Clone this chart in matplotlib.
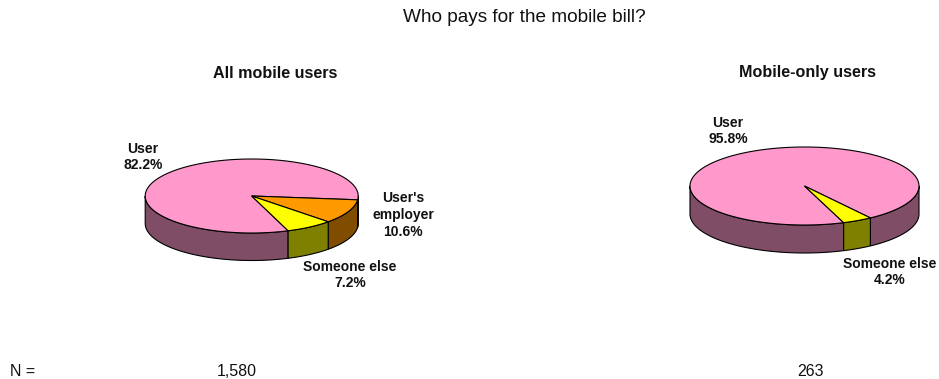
import numpy as np
import matplotlib
matplotlib.use("Agg")
import matplotlib.pyplot as plt
from matplotlib.patches import Polygon

plt.rcParams["font.family"] = ["Liberation Sans", "DejaVu Sans"]

# ── data ──────────────────────────────────────────────────────────────
ALL_CATS    = ["User", "User's\nemployer", "Someone else"]
ALL_SHARES  = [82.2, 10.6, 7.2]
ALL_N       = "1,580"

ONLY_CATS   = ["User", "Someone else"]
ONLY_SHARES = [95.8, 4.2]
ONLY_N      = "263"

TOP_COLORS = {"User": "#FF99CC", "User's\nemployer": "#FF9900", "Someone else": "#FFFF00"}

W, H = 939, 379
START_DEG = 70.0        # first slice starts here, going clockwise on screen


def darker(hex_color, f=0.5):
    r, g, b = matplotlib.colors.to_rgb(hex_color)
    return (r * f, g * f, b * f)


def pie3d(ax, shares, cats, cx, cy, a, b, depth):
    """Flat-shaded 'Excel style' 3D pie, drawn in pixel coords (y down)."""
    total = sum(shares)
    bounds = []
    t0 = START_DEG
    for s in shares:
        t1 = t0 + 360.0 * s / total
        bounds.append((t0, t1))
        t0 = t1

    # front walls: only the part of each slice with sin(t) > 0 is visible
    for (t0, t1), cat in zip(bounds, cats):
        for k in (0, 360):
            lo, hi = max(t0 - k, 0.0), min(t1 - k, 180.0)
            if hi <= lo:
                continue
            t = np.radians(np.linspace(lo, hi, 120))
            xs = cx + a * np.cos(t)
            top = cy + b * np.sin(t)
            pts = np.r_[np.c_[xs, top], np.c_[xs[::-1], top[::-1] + depth]]
            ax.add_patch(Polygon(pts, closed=True, fc=darker(TOP_COLORS[cat]),
                                 ec="black", lw=0.8, joinstyle="miter"))

    # top faces
    for (t0, t1), cat in zip(bounds, cats):
        t = np.radians(np.linspace(t0, t1, 300))
        pts = np.r_[[[cx, cy]], np.c_[cx + a * np.cos(t), cy + b * np.sin(t)]]
        ax.add_patch(Polygon(pts, closed=True, fc=TOP_COLORS[cat],
                             ec="black", lw=0.8, joinstyle="miter"))


def label(ax, x, y, cat, share):
    ax.text(x, y, f"{cat}\n{share:.1f}%", ha="center", va="center",
            fontsize=10, fontweight="bold", linespacing=1.25, color="#111111")


fig = plt.figure(figsize=(W / 100, H / 100), dpi=100)
ax = fig.add_axes([0, 0, 1, 1])
ax.set_xlim(0, W)
ax.set_ylim(H, 0)
ax.axis("off")

ax.text(524, 18, "Who pays for the mobile bill?", ha="center", va="center",
        fontsize=13.7, color="#111111")

# left pie: all mobile users
ax.text(275.5, 73, "All mobile users", ha="center", va="center",
        fontsize=11.6, fontweight="bold", color="#111111")
pie3d(ax, ALL_SHARES, ALL_CATS, 251.7, 196, 106.5, 37, 27.5)
label(ax, 143, 157, ALL_CATS[0], ALL_SHARES[0])
label(ax, 403, 215, ALL_CATS[1], ALL_SHARES[1])
label(ax, 350, 275, ALL_CATS[2], ALL_SHARES[2])

# right pie: mobile-only users
ax.text(807.5, 73, "Mobile-only users", ha="center", va="center",
        fontsize=11.6, fontweight="bold", color="#111111")
pie3d(ax, ONLY_SHARES, ONLY_CATS, 804.5, 186, 114.5, 39, 28)
label(ax, 728, 131, ONLY_CATS[0], ONLY_SHARES[0])
label(ax, 890, 272, ONLY_CATS[1], ONLY_SHARES[1])

# sample sizes
ax.text(10, 371, "N =", ha="left", va="center", fontsize=11.5, color="#111111")
ax.text(237, 371, ALL_N, ha="center", va="center", fontsize=11.5, color="#111111")
ax.text(810, 371, ONLY_N, ha="center", va="center", fontsize=11.5, color="#111111")

fig.savefig("out.png", dpi=100, facecolor="white")
